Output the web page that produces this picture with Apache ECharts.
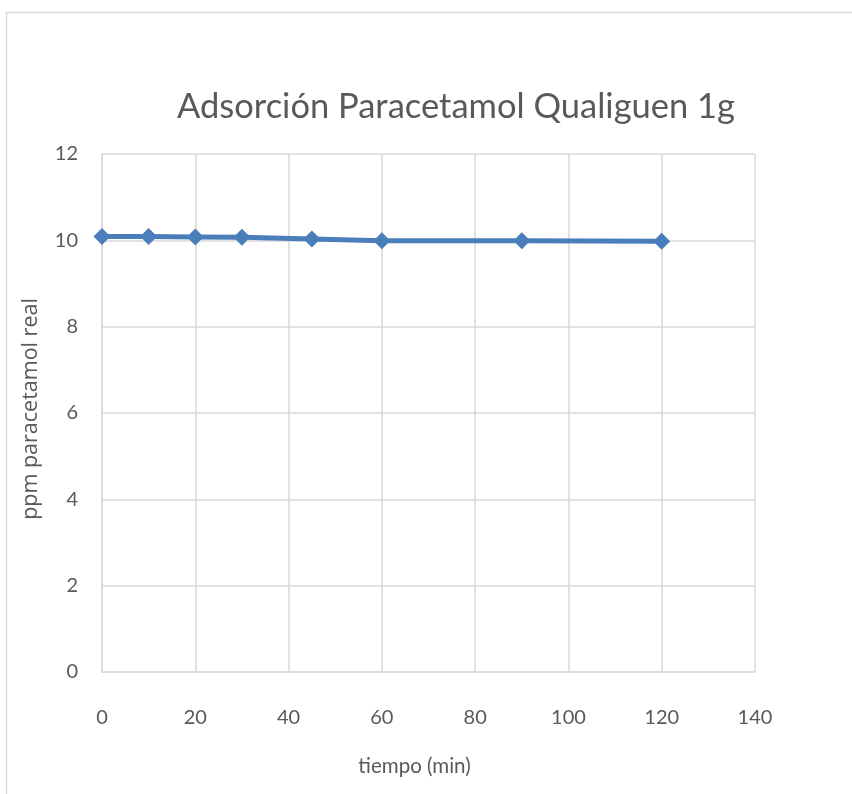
<!DOCTYPE html>
<html>
<head>
<meta charset="utf-8">
<script src="https://cdn.jsdelivr.net/npm/echarts@6/dist/echarts.min.js"></script>
<style>
  html, body { margin: 0; padding: 0; background: #fff; }
  #chart { width: 852px; height: 794px; }
</style>
</head>
<body>
<div id="chart"></div>
<script>
// Sampling times (min) and measured paracetamol concentration (ppm)
const tiempo = [0, 10, 20, 30, 45, 60, 90, 120];
const ppm = [10.09, 10.09, 10.08, 10.07, 10.03, 9.99, 9.99, 9.98];

const titulo = 'Adsorción Paracetamol Qualiguen 1g';
const ejeX = 'tiempo (min)';
const ejeY = 'ppm paracetamol real';

const FONT = 'Lato, "Open Sans", sans-serif';
const TXT = '#595959';
const GRID = '#d9d9d9';

const chart = echarts.init(document.getElementById('chart'));
chart.setOption({
  animation: false,
  backgroundColor: '#fff',
  graphic: [{
    type: 'rect',
    shape: { x: 6.5, y: 12.5, width: 900, height: 900 },
    style: { fill: 'none', stroke: GRID, lineWidth: 1.5 },
    silent: true
  }],
  title: {
    text: titulo,
    left: 172,
    top: 84,
    textStyle: { fontFamily: FONT, fontSize: 34.5, fontWeight: 'normal', color: TXT }
  },
  grid: { left: 102, top: 154, right: 97, bottom: 122 },
  xAxis: {
    type: 'value',
    min: 0, max: 140, interval: 20,
    name: ejeX,
    nameLocation: 'middle',
    nameGap: 84,
    nameTextStyle: { fontFamily: FONT, fontSize: 20.5, color: TXT, padding: [0, 28, 0, 0] },
    axisLine: { show: true, lineStyle: { color: GRID, width: 1.5 } },
    axisTick: { show: false },
    axisLabel: { margin: 36, fontFamily: FONT, fontSize: 20, color: TXT },
    splitLine: { show: true, lineStyle: { color: GRID, width: 1.5 } }
  },
  yAxis: {
    type: 'value',
    min: 0, max: 12, interval: 2,
    name: ejeY,
    nameLocation: 'middle',
    nameGap: 60,
    nameTextStyle: { fontFamily: '"Open Sans", sans-serif', fontSize: 21.5, color: TXT, padding: [0, 0, 0, 8] },
    axisLine: { show: true, lineStyle: { color: GRID, width: 1.5 } },
    axisTick: { show: false },
    axisLabel: { margin: 24, fontFamily: FONT, fontSize: 20, color: TXT },
    splitLine: { show: true, lineStyle: { color: GRID, width: 1.5 } }
  },
  series: [{
    type: 'line',
    data: tiempo.map((t, i) => [t, ppm[i]]),
    symbol: 'diamond',
    symbolSize: 17,
    lineStyle: { color: '#4a7ebb', width: 5 },
    itemStyle: { color: '#4a7ebb' }
  }]
});
</script>
</body>
</html>
